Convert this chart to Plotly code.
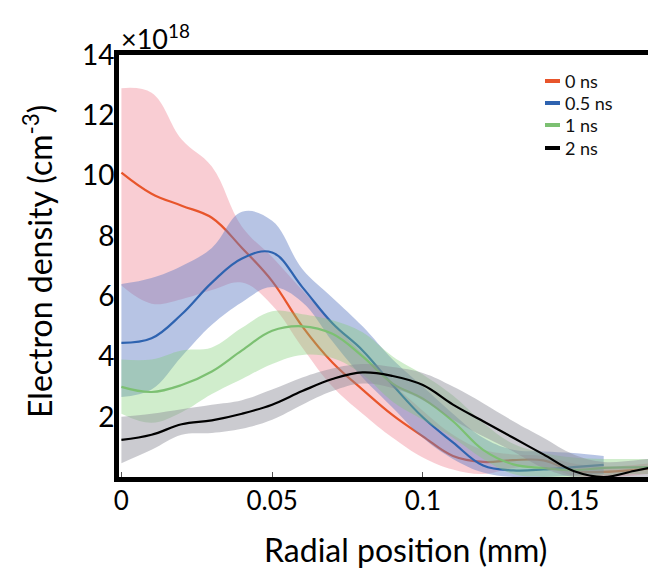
import plotly.graph_objects as go

# ---------------- data (radial position in mm, density in 1e18 cm^-3) ----------------
radial_mm = [0.0, 0.01, 0.02, 0.03, 0.04, 0.05, 0.06, 0.07, 0.08, 0.09,
             0.10, 0.11, 0.12, 0.13, 0.14, 0.15, 0.16, 0.17, 0.175]

ns0_mean  = [10.1, 9.4, 9.0, 8.6, 7.6, 6.5, 5.0, 3.8, 2.9, 2.05,
             1.35, 0.7, 0.5, 0.56, 0.55, 0.2, 0.17, 0.23, 0.28]
ns0_upper = [12.9, 12.75, 11.2, 10.3, 8.3, 7.3, 6.2, 5.1, 4.1, 3.1,
             2.2, 1.4, 0.9, 0.75, 0.7, 0.45, 0.35, 0.4, 0.45]
ns0_lower = [6.35, 5.75, 5.9, 6.2, 6.45, 5.7, 4.3, 3.0, 2.1, 1.3,
             0.65, 0.25, 0.1, 0.3, 0.35, 0.05, 0.0, 0.05, 0.1]

ns05_mean  = [4.45, 4.6, 5.4, 6.45, 7.25, 7.45, 6.3, 5.1, 4.2, 3.05,
              1.98, 1.15, 0.38, 0.22, 0.25, 0.33, 0.4]
ns05_upper = [6.4, 6.6, 7.0, 7.6, 8.8, 8.5, 6.9, 5.95, 5.0, 3.9,
              3.0, 2.1, 1.3, 0.9, 0.85, 0.8, 0.7]
ns05_lower = [2.65, 2.9, 4.0, 5.05, 5.8, 6.3, 5.8, 4.5, 3.3, 2.3,
              1.3, 0.6, 0.15, 0.0, 0.0, 0.05, 0.1]

ns1_mean  = [2.99, 2.82, 3.05, 3.5, 4.2, 4.85, 5.0, 4.75, 4.0, 3.1,
             2.6, 1.85, 0.9, 0.42, 0.3, 0.23, 0.3, 0.32, 0.33]
ns1_upper = [3.9, 3.9, 4.2, 4.3, 4.95, 5.5, 5.4, 5.2, 4.8, 4.0,
             3.4, 2.7, 1.8, 1.1, 0.8, 0.65, 0.6, 0.6, 0.6]
ns1_lower = [2.1, 1.8, 2.15, 2.75, 3.25, 3.75, 4.05, 3.95, 3.4, 2.5,
             1.9, 1.3, 0.6, 0.1, 0.0, 0.0, 0.05, 0.1, 0.1]

ns2_mean  = [1.23, 1.4, 1.75, 1.88, 2.1, 2.4, 2.85, 3.25, 3.47, 3.35,
             3.05, 2.4, 1.85, 1.3, 0.75, 0.2, 0.0, 0.2, 0.3]
ns2_upper = [2.0, 2.1, 2.25, 2.4, 2.55, 2.9, 3.3, 3.6, 3.75, 3.65,
             3.45, 3.0, 2.45, 1.85, 1.3, 0.75, 0.5, 0.55, 0.6]
ns2_lower = [0.46, 0.9, 1.4, 1.46, 1.6, 1.9, 2.4, 2.85, 3.1, 2.95,
             2.55, 1.9, 1.35, 0.85, 0.3, 0.0, 0.0, 0.0, 0.0]

series_names = ["0 ns", "0.5 ns", "1 ns", "2 ns"]
line_colors = ["#E8552B", "#2E63B0", "#7CC072", "#000000"]
band_colors = ["rgba(240,135,150,0.42)", "rgba(95,125,195,0.45)",
               "rgba(125,205,115,0.36)", "rgba(140,140,150,0.45)"]

x_ticks = [0, 0.05, 0.1, 0.15]
x_tick_text = ["0", "0.05", "0.1", "0.15"]
y_ticks = [2, 4, 6, 8, 10, 12, 14]
y_tick_text = ["2", "4", "6", "8", "10", "12", "14"]

FONT = "Lato"

fig = go.Figure()

series = [
    (ns0_mean, ns0_upper, ns0_lower),
    (ns05_mean, ns05_upper, ns05_lower),
    (ns1_mean, ns1_upper, ns1_lower),
    (ns2_mean, ns2_upper, ns2_lower),
]

for i, (mean, up, lo) in enumerate(series):
    xs = radial_mm[:len(mean)]
    fig.add_trace(go.Scatter(x=xs, y=up, mode="lines",
                             line=dict(width=0, shape="spline", smoothing=1.1),
                             showlegend=False, hoverinfo="skip"))
    fig.add_trace(go.Scatter(x=xs, y=lo, mode="lines", fill="tonexty",
                             fillcolor=band_colors[i],
                             line=dict(width=0, shape="spline", smoothing=1.1),
                             showlegend=False, hoverinfo="skip"))
    fig.add_trace(go.Scatter(x=xs, y=mean, mode="lines", name=series_names[i],
                             line=dict(color=line_colors[i], width=2.2,
                                       shape="spline", smoothing=1.1),
                             showlegend=False))

# plot-area geometry in pixels (for paper-coordinate annotations)
L, T, W, H = 119, 55, 529, 422
B = T + H


def px(xp):
    return (xp - L) / W


def py(yp):
    return (B - yp) / H


shapes = []
annotations = []
leg_y = [81, 103, 125, 148]
for i, name in enumerate(series_names):
    yy = py(leg_y[i])
    shapes.append(dict(type="line", xref="paper", yref="paper",
                       x0=px(545), x1=px(560), y0=yy, y1=yy,
                       line=dict(color=line_colors[i], width=4)))
    annotations.append(dict(xref="paper", yref="paper", x=px(563), y=yy,
                            text=name, showarrow=False, xanchor="left",
                            yanchor="middle",
                            font=dict(family=FONT, size=18, color="#111")))

annotations.append(dict(xref="paper", yref="paper", x=px(119), y=py(57),
                        text="×10<sup>18</sup>", showarrow=False,
                        xanchor="left", yanchor="bottom",
                        font=dict(family=FONT, size=27, color="#000")))
annotations.append(dict(xref="paper", yref="paper", x=px(38), y=py(262),
                        text="Electron density (cm<sup>-3</sup>)",
                        textangle=-90, showarrow=False,
                        xanchor="center", yanchor="middle",
                        font=dict(family=FONT, size=32, color="#000")))
annotations.append(dict(xref="paper", yref="paper", x=px(405), y=py(549),
                        text="Radial position (mm)", showarrow=False,
                        xanchor="center", yanchor="middle",
                        font=dict(family=FONT, size=32, color="#000")))

fig.update_layout(
    width=648, height=571,
    margin=dict(l=L, r=0, t=T, b=571 - B, pad=0),
    paper_bgcolor="white", plot_bgcolor="white",
    showlegend=False,
    shapes=shapes, annotations=annotations,
    xaxis=dict(range=[-0.0008, 0.1747], showgrid=False, zeroline=False,
               showline=True, linecolor="black", linewidth=5, mirror=True,
               tickmode="array", tickvals=x_ticks, ticktext=x_tick_text,
               ticks="inside", ticklen=5, tickwidth=1, tickcolor="#555",
               ticklabelstandoff=-3,
               tickfont=dict(family=FONT, size=26, color="#000")),
    yaxis=dict(range=[0, 14], showgrid=False, zeroline=False,
               showline=True, linecolor="black", linewidth=5, mirror=False,
               tickmode="array", tickvals=y_ticks, ticktext=y_tick_text,
               ticks="", ticklabelstandoff=-6,
               tickfont=dict(family=FONT, size=28, color="#000")),
)

fig.write_html("out.html")
